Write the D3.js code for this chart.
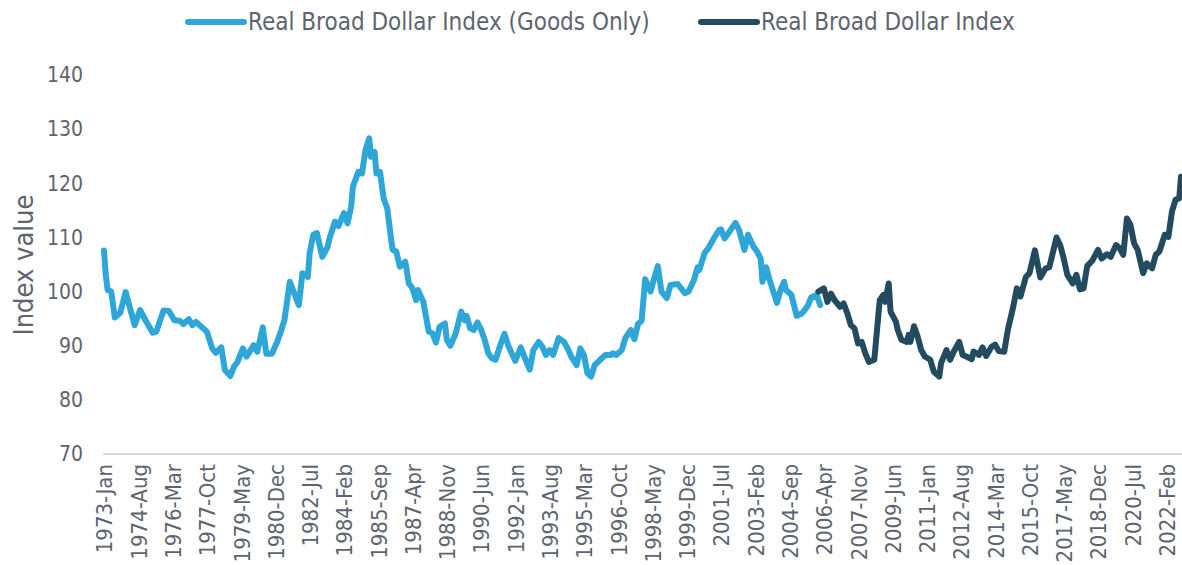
<!DOCTYPE html>
<html>
<head>
<meta charset="utf-8">
<script src="https://cdn.jsdelivr.net/npm/d3@7"></script>
<style>
	body { margin: 0; background: #fff; }
	svg text { font-family: "DejaVu Sans Condensed", "DejaVu Sans", sans-serif; fill: #5d6470; }
</style>
</head>
<body>
<svg width="1182" height="565"></svg>
<script>
'use strict'

// Axis categories: every month from 1973-Jan to 2022-Oct
const MONTHS = ['Jan', 'Feb', 'Mar', 'Apr', 'May', 'Jun', 'Jul', 'Aug', 'Sep', 'Oct', 'Nov', 'Dec']
const categories = []
for (let y = 1973; y <= 2022; y++) {
	MONTHS.forEach((m, i) => {
		if (y === 2022 && i > 9) return
		categories.push(`${y}-${m}`)
	})
}

const xTickLabels = ['1973-Jan', '1974-Aug', '1976-Mar', '1977-Oct', '1979-May', '1980-Dec', '1982-Jul', '1984-Feb',
	'1985-Sep', '1987-Apr', '1988-Nov', '1990-Jun', '1992-Jan', '1993-Aug', '1995-Mar', '1996-Oct', '1998-May',
	'1999-Dec', '2001-Jul', '2003-Feb', '2004-Sep', '2006-Apr', '2007-Nov', '2009-Jun', '2011-Jan', '2012-Aug',
	'2014-Mar', '2015-Oct', '2017-May', '2018-Dec', '2020-Jul', '2022-Feb']
const yTickValues = [70, 80, 90, 100, 110, 120, 130, 140]

// Real Broad Dollar Index (Goods Only)
const goodsOnly = [
	['1973-Jan', 107.6], ['1973-Feb', 103.0], ['1973-Mar', 100.3], ['1973-May', 100.0], ['1973-Jul', 95.2],
	['1973-Oct', 96.1], ['1974-Jan', 99.9], ['1974-Jun', 93.8], ['1974-Sep', 96.6], ['1974-Dec', 94.7],
	['1975-Apr', 92.4], ['1975-Jun', 92.6], ['1975-Oct', 96.5], ['1976-Jan', 96.4], ['1976-Apr', 94.7],
	['1976-Jul', 94.6], ['1976-Sep', 94.0], ['1976-Dec', 94.9], ['1977-Feb', 93.8], ['1977-Apr', 94.4],
	['1977-Jul', 93.5], ['1977-Oct', 92.6], ['1978-Jan', 89.5], ['1978-Mar', 88.7], ['1978-Jun', 89.7],
	['1978-Aug', 85.5], ['1978-Nov', 84.4], ['1979-Jan', 86.1], ['1979-Mar', 87.0], ['1979-Jun', 89.5],
	['1979-Aug', 88.0], ['1979-Dec', 90.1], ['1980-Feb', 88.9], ['1980-May', 93.4], ['1980-Jul', 88.5],
	['1980-Oct', 88.5], ['1981-Jan', 90.7], ['1981-Mar', 92.6], ['1981-May', 94.7], ['1981-Aug', 101.8],
	['1982-Jan', 97.5], ['1982-Mar', 103.4], ['1982-Jun', 102.7], ['1982-Jul', 107.1], ['1982-Sep', 110.5],
	['1982-Nov', 110.8], ['1983-Feb', 106.4], ['1983-May', 108.3], ['1983-Jun', 109.8], ['1983-Sep', 112.9],
	['1983-Nov', 112.1], ['1984-Feb', 114.5], ['1984-Apr', 112.6], ['1984-Jun', 115.7], ['1984-Jul', 119.4],
	['1984-Oct', 122.1], ['1984-Dec', 121.8], ['1985-Feb', 126.2], ['1985-Apr', 128.3], ['1985-May', 124.9],
	['1985-Jul', 125.8], ['1985-Aug', 121.8], ['1985-Oct', 122.1], ['1985-Dec', 117.2], ['1986-Feb', 115.4],
	['1986-Apr', 110.1], ['1986-May', 107.7], ['1986-Jul', 107.4], ['1986-Sep', 104.6], ['1986-Dec', 105.5],
	['1987-Feb', 101.5], ['1987-Apr', 100.6], ['1987-Jun', 98.4], ['1987-Jul', 100.3], ['1987-Oct', 98.1],
	['1988-Jan', 92.6], ['1988-Mar', 92.3], ['1988-May', 90.6], ['1988-Jul', 93.5], ['1988-Oct', 94.1],
	['1988-Nov', 91.1], ['1989-Jan', 90.0], ['1989-Apr', 92.3], ['1989-Jul', 96.3], ['1989-Sep', 94.7],
	['1989-Oct', 95.5], ['1989-Dec', 93.2], ['1990-Feb', 92.9], ['1990-Apr', 94.3], ['1990-Jun', 93.0],
	['1990-Aug', 91.1], ['1990-Oct', 88.6], ['1990-Dec', 87.7], ['1991-Feb', 87.4], ['1991-May', 90.4],
	['1991-Jul', 92.2], ['1991-Sep', 90.1], ['1991-Nov', 88.6], ['1992-Jan', 87.2], ['1992-Apr', 89.7],
	['1992-Jun', 88.0], ['1992-Sep', 85.6], ['1992-Nov', 89.2], ['1993-Feb', 90.7], ['1993-Apr', 89.8],
	['1993-Jun', 88.3], ['1993-Aug', 89.2], ['1993-Oct', 88.3], ['1994-Jan', 91.4], ['1994-Apr', 90.7],
	['1994-Jun', 89.5], ['1994-Aug', 88.0], ['1994-Nov', 86.4], ['1995-Jan', 89.5], ['1995-Mar', 88.3],
	['1995-May', 84.9], ['1995-Jul', 84.3], ['1995-Sep', 86.4], ['1995-Dec', 87.4], ['1996-Mar', 88.3],
	['1996-Jun', 88.3], ['1996-Jul', 88.6], ['1996-Sep', 88.3], ['1996-Dec', 89.2], ['1997-Feb', 91.4],
	['1997-May', 92.9], ['1997-Jul', 91.2], ['1997-Sep', 94.0], ['1997-Nov', 94.6], ['1998-Jan', 102.3],
	['1998-Apr', 100.0], ['1998-Jun', 102.5], ['1998-Aug', 104.7], ['1998-Oct', 100.0], ['1999-Jan', 98.8],
	['1999-Mar', 101.2], ['1999-Jul', 101.4], ['1999-Nov', 99.7], ['2000-Jan', 100.0], ['2000-Apr', 102.1],
	['2000-Jun', 104.5], ['2000-Jul', 104.0], ['2000-Oct', 107.2], ['2000-Dec', 108.0], ['2001-Mar', 109.8],
	['2001-Jun', 111.4], ['2001-Jul', 111.5], ['2001-Sep', 109.8], ['2001-Dec', 111.2], ['2002-Mar', 112.7],
	['2002-May', 111.4], ['2002-Aug', 107.7], ['2002-Oct', 110.5], ['2003-Jan', 108.3], ['2003-Mar', 107.4],
	['2003-May', 106.1], ['2003-Jun', 101.8], ['2003-Aug', 104.5], ['2003-Oct', 102.1], ['2004-Feb', 97.9],
	['2004-Apr', 100.3], ['2004-Jun', 101.8], ['2004-Jul', 100.3], ['2004-Oct', 99.4], ['2005-Jan', 95.5],
	['2005-Apr', 96.0], ['2005-Jul', 97.3], ['2005-Sep', 98.9], ['2005-Dec', 99.4], ['2006-Feb', 97.5],
]

// Real Broad Dollar Index
const realBroad = [
	['2006-Jan', 100.0], ['2006-Apr', 100.6], ['2006-Jun', 98.1], ['2006-Aug', 99.6], ['2006-Oct', 98.4],
	['2007-Jan', 97.2], ['2007-Mar', 97.8], ['2007-May', 96.0], ['2007-Jul', 93.8], ['2007-Sep', 93.2],
	['2007-Nov', 90.4], ['2008-Jan', 90.7], ['2008-Mar', 88.6], ['2008-May', 87.0], ['2008-Aug', 87.4],
	['2008-Sep', 91.1], ['2008-Nov', 98.4], ['2009-Jan', 99.4], ['2009-Feb', 98.1], ['2009-Apr', 101.5],
	['2009-May', 96.3], ['2009-Aug', 94.4], ['2009-Sep', 92.9], ['2009-Nov', 91.1], ['2010-Feb', 90.7],
	['2010-Mar', 92.0], ['2010-Apr', 90.7], ['2010-Jun', 93.6], ['2010-Aug', 91.7], ['2010-Oct', 89.2],
	['2010-Dec', 88.0], ['2011-Mar', 87.4], ['2011-May', 85.2], ['2011-Aug', 84.3], ['2011-Sep', 86.8],
	['2011-Dec', 89.2], ['2012-Feb', 87.4], ['2012-Apr', 88.9], ['2012-Jul', 90.7], ['2012-Sep', 88.3],
	['2012-Nov', 88.0], ['2013-Feb', 87.5], ['2013-Mar', 88.9], ['2013-Jun', 88.3], ['2013-Aug', 89.7],
	['2013-Oct', 88.1], ['2014-Jan', 89.8], ['2014-Mar', 90.2], ['2014-May', 89.0], ['2014-Aug', 88.9],
	['2014-Oct', 92.9], ['2015-Jan', 97.2], ['2015-Mar', 100.6], ['2015-May', 99.1], ['2015-Aug', 102.7],
	['2015-Oct', 103.4], ['2016-Jan', 107.6], ['2016-Apr', 102.6], ['2016-Jul', 104.3], ['2016-Sep', 104.5],
	['2017-Jan', 110.0], ['2017-Mar', 108.6], ['2017-May', 106.1], ['2017-Jul', 103.1], ['2017-Oct', 101.5],
	['2017-Dec', 103.1], ['2018-Feb', 100.4], ['2018-Apr', 100.6], ['2018-Jun', 104.7], ['2018-Sep', 105.8],
	['2018-Dec', 107.7], ['2019-Feb', 106.1], ['2019-May', 106.9], ['2019-Jul', 106.4], ['2019-Oct', 108.6],
	['2019-Dec', 108.0], ['2020-Feb', 106.8], ['2020-Apr', 113.5], ['2020-Jun', 112.3], ['2020-Aug', 108.9],
	['2020-Oct', 107.7], ['2021-Jan', 103.4], ['2021-Mar', 105.2], ['2021-Jun', 104.3], ['2021-Aug', 106.8],
	['2021-Oct', 107.4], ['2022-Jan', 110.5], ['2022-Mar', 110.1], ['2022-May', 114.8], ['2022-Jul', 117.0],
	['2022-Sep', 117.2], ['2022-Oct', 121.2],
]

const seriesNames = ['Real Broad Dollar Index (Goods Only)', 'Real Broad Dollar Index']
const seriesColors = ['#2ea6d8', '#234b5f']

const svg = d3.select('svg')

// Scales
const x = d3.scalePoint().domain(categories).range([104, 1181])
const y = d3.scaleLinear().domain([70, 140]).range([454, 75])

// X axis line + rotated labels
const xAxis = d3.axisBottom(x).tickValues(xTickLabels).tickSize(0).tickPadding(0)
const gx = svg.append('g').attr('transform', `translate(0,${y(70)})`).call(xAxis)
gx.select('.domain').attr('d', 'M103,0H1182').attr('stroke', '#d9d9d9').attr('stroke-width', 2)
gx.selectAll('.tick text')
	.attr('transform', 'rotate(-90)')
	.attr('x', -10).attr('y', 0).attr('dy', '0.36em')
	.attr('text-anchor', 'end')
	.style('font-size', '22px')

// Y axis labels only
const yAxis = d3.axisLeft(y).tickValues(yTickValues).tickSize(0).tickPadding(0)
const gy = svg.append('g').attr('transform', 'translate(83,0)').call(yAxis)
gy.select('.domain').remove()
gy.selectAll('.tick text').style('font-size', '21px')

svg.append('text')
	.attr('transform', 'translate(33,265) rotate(-90)')
	.attr('text-anchor', 'middle')
	.style('font-size', '27px')
	.text('Index value')

// Lines
const line = d3.line().x((d) => x(d[0])).y((d) => y(d[1]))
;[goodsOnly, realBroad].forEach((data, i) => {
	svg.append('path')
		.datum(data)
		.attr('fill', 'none')
		.attr('stroke', seriesColors[i])
		.attr('stroke-width', 6)
		.attr('stroke-linejoin', 'round')
		.attr('stroke-linecap', 'round')
		.attr('d', line)
})

// Legend
const legendX = [188, 701]
seriesNames.forEach((name, i) => {
	const g = svg.append('g').attr('transform', `translate(${legendX[i]},22)`)
	g.append('line').attr('x1', 0).attr('x2', 56)
		.attr('stroke', seriesColors[i]).attr('stroke-width', 6).attr('stroke-linecap', 'round')
	g.append('text').attr('x', 60).attr('dy', '0.35em')
		.style('font-size', '24px')
		.text(name)
})
</script>
</body>
</html>
